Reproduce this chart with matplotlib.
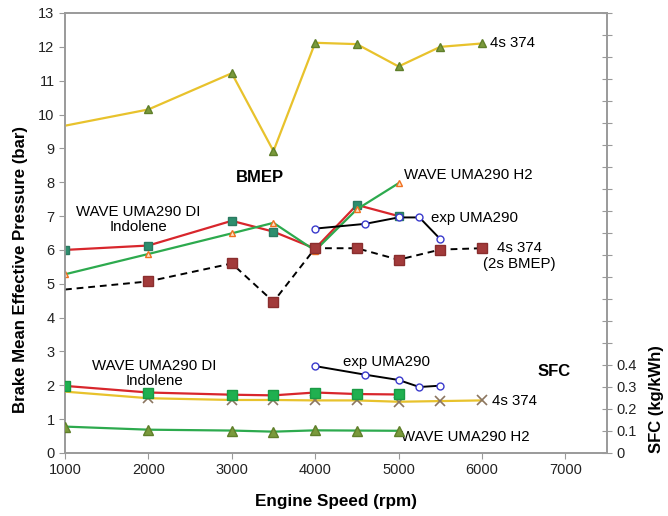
import numpy as np
import matplotlib
matplotlib.use("Agg")
import matplotlib.pyplot as plt
from matplotlib.ticker import FixedLocator, FuncFormatter

plt.rcParams['font.family'] = ['Liberation Sans', 'DejaVu Sans']

# engine speeds (rpm)
rpm_full = [1000, 2000, 3000, 3500, 4000, 4500, 5000, 5500, 6000]
rpm_wave = [1000, 2000, 3000, 3500, 4000, 4500, 5000]
rpm_exp = [4000, 4600, 5000, 5250, 5500]

# BMEP (bar)
bmep_4s374 = [9.67, 10.15, 11.22, 8.92, 12.12, 12.08, 11.42, 12.0, 12.1]
bmep_4s374_2s = [4.83, 5.07, 5.6, 4.47, 6.05, 6.05, 5.71, 6.01, 6.05]
bmep_di = [6.0, 6.13, 6.86, 6.54, 6.04, 7.33, 7.0]
bmep_h2 = [5.28, 5.88, 6.49, 6.8, 5.98, 7.2, 7.97]
bmep_exp = [6.63, 6.77, 6.96, 6.96, 6.32]

# SFC (kg/kWh)
sfc_4s374 = [0.279, 0.249, 0.241, 0.241, 0.239, 0.239, 0.233, 0.236, 0.239]
sfc_di = [0.305, 0.275, 0.265, 0.262, 0.275, 0.268, 0.266]
sfc_h2 = [0.12, 0.106, 0.102, 0.097, 0.103, 0.102, 0.101]
sfc_exp = [0.395, 0.356, 0.332, 0.300, 0.306]

fig = plt.figure(figsize=(6.68, 5.16), dpi=100)
ax = fig.add_axes([65 / 668, 1 - 453 / 516, 542 / 668, 440 / 516])
ax2 = ax.twinx()

yellow = '#E8C22C'
red = '#D8262C'
green = '#2DAA4E'
olive = '#7A9A3C'

# --- BMEP ---
ax.plot(rpm_full, bmep_4s374, color=yellow, lw=1.6, marker='^', ms=6,
        mfc=olive, mec='#5F7F2A', markevery=list(range(1, 9)), zorder=3)
ax.plot(rpm_full, bmep_4s374_2s, color='black', lw=1.4, ls=(0, (3.5, 2.5)),
        marker='s', ms=6.5, mfc='#A23A3A', mec='#8A2E2E',
        markevery=list(range(1, 9)), zorder=4)
ax.plot(rpm_wave, bmep_di, color=red, lw=1.6, marker='s', ms=5.5,
        mfc='#2E8E6E', mec='#2A7A60', zorder=3)
ax.plot(rpm_wave, bmep_h2, color=green, lw=1.6, marker='^', ms=5,
        mfc='#FCE3C8', mec='#F07020', zorder=3)
ax.plot(rpm_exp, bmep_exp, color='black', lw=1.4, marker='o', ms=5,
        mfc='white', mec='#3A3ACC', zorder=3)

# --- SFC ---
ax2.plot(rpm_full, sfc_4s374, color=yellow, lw=1.6, marker='x', ms=7,
         mec='#8C7660', mew=1.2, markevery=list(range(1, 9)), zorder=3)
ax2.plot(rpm_wave, sfc_di, color=red, lw=1.6, marker='s', ms=7,
         mfc='#20B050', mec='#1A9A44', zorder=4)
ax2.plot(rpm_wave, sfc_h2, color=green, lw=1.6, marker='^', ms=7,
         mfc=olive, mec='#5F7F2A', zorder=3)
ax2.plot(rpm_exp, sfc_exp, color='black', lw=1.4, marker='o', ms=5,
         mfc='white', mec='#3A3ACC', zorder=3)

# axes
ax.set_xlim(1000, 7500)
ax.set_ylim(0, 13)
ax2.set_ylim(0, 2.0)
ax.set_xticks(range(1000, 8000, 1000))
ax.set_yticks(range(0, 14))
ax2.yaxis.set_major_locator(FixedLocator(np.round(np.arange(0, 2.01, 0.1), 1)))
ax2.yaxis.set_major_formatter(
    FuncFormatter(lambda v, p: ('0' if v == 0 else f'{v:.1f}') if v < 0.45 else ''))

for a in (ax, ax2):
    for s in a.spines.values():
        s.set_color('#9A9A9A')
        s.set_linewidth(1.2)
ax.tick_params(axis='both', labelsize=10.5, color='#9A9A9A', length=4,
               direction='out', labelcolor='#222222')
ax2.tick_params(axis='y', labelsize=10.5, color='#9A9A9A', length=7,
                direction='inout', labelcolor='#222222')

ax.set_xlabel('Engine Speed (rpm)', fontsize=12.3, fontweight='bold', labelpad=12)
ax.set_ylabel('Brake Mean Effective Pressure (bar)', fontsize=12.1,
              fontweight='bold')
ax.yaxis.set_label_coords(-0.069, 0.418)
ax2.set_ylabel('SFC (kg/kWh)', fontsize=12, fontweight='bold')
ax2.yaxis.set_label_coords(1.078, 0.123)

# annotations
fs = 10.8
ax.text(6100, 12.1, '4s 374', fontsize=fs, va='center')
ax.text(3340, 8.15, 'BMEP', fontsize=12, fontweight='bold', ha='center', va='center')
ax.text(1880, 6.9, 'WAVE UMA290 DI\nIndolene', fontsize=fs, ha='center',
        va='center', linespacing=1.1)
ax.text(5070, 8.2, 'WAVE UMA290 H2', fontsize=fs, va='center')
ax.text(5395, 6.94, 'exp UMA290', fontsize=fs, va='center')
ax.text(6450, 5.82, '4s 374\n(2s BMEP)', fontsize=fs, ha='center', va='center',
        linespacing=1.1)
ax.text(2070, 2.36, 'WAVE UMA290 DI\nIndolene', fontsize=fs, ha='center',
        va='center', linespacing=1.1)
ax.text(4860, 2.70, 'exp UMA290', fontsize=fs, ha='center', va='center')
ax.text(6860, 2.4, 'SFC', fontsize=12, fontweight='bold', ha='center', va='center')
ax.text(6115, 1.54, '4s 374', fontsize=fs, va='center')
ax.text(5030, 0.47, 'WAVE UMA290 H2', fontsize=fs, va='center')

fig.savefig('out.png', dpi=100)
